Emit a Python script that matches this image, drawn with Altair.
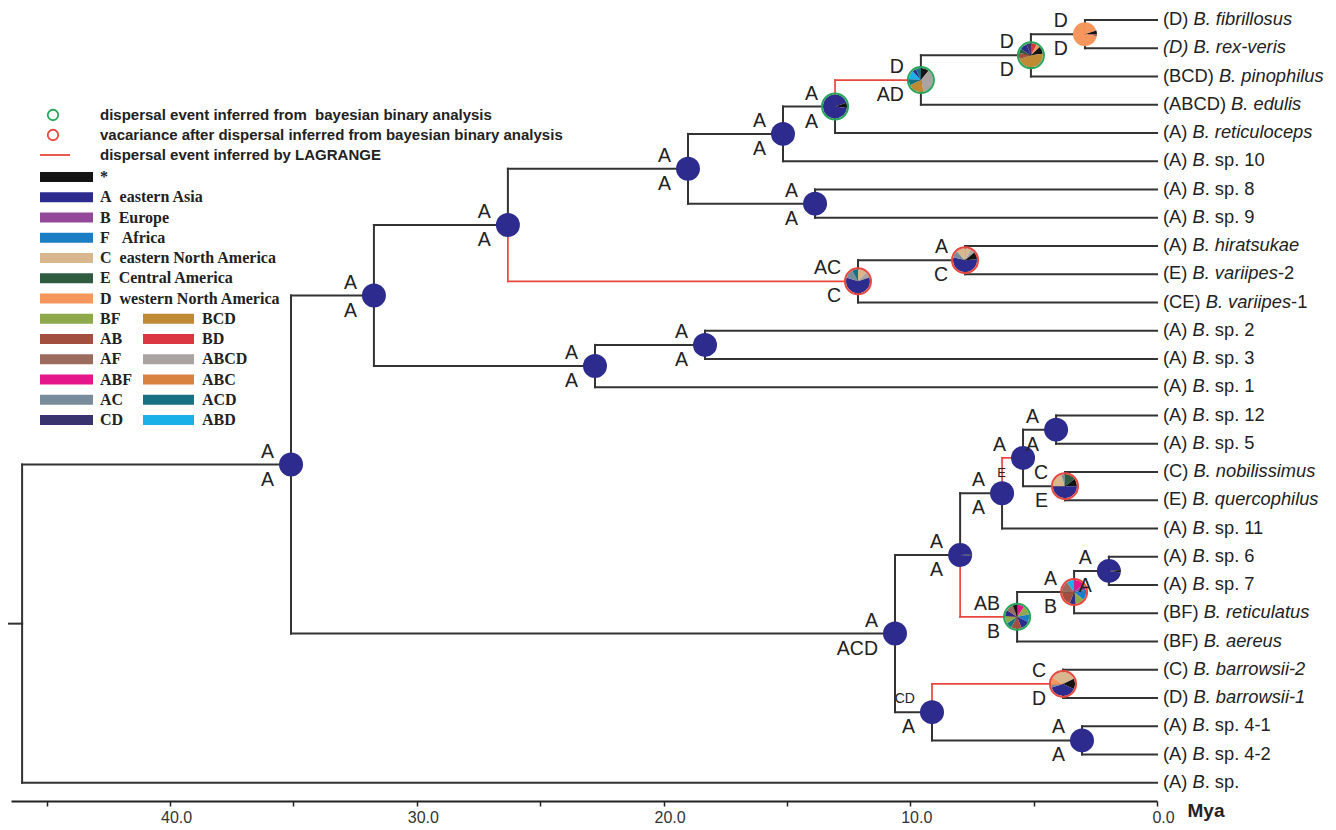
import math
import altair as alt
import pandas as pd

# ------------------------------------------------------------------ data
AREA_CODES = ["*", "A", "B", "F", "C", "E", "D", "BF", "AB", "AF", "ABF", "AC", "CD",
              "BCD", "BD", "ABCD", "ABC", "ACD", "ABD"]
AREA_COLORS = ["#141414", "#2D2C8E", "#93489A", "#1B7DC3", "#D8B78E", "#2F5B40", "#F5965C",
               "#8EA84C", "#A34F40", "#9B6B5E", "#E5158A", "#798C9B", "#3A346E",
               "#BF8A33", "#DB3742", "#A9A3A1", "#D9823F", "#177183", "#1AB0E8"]
AREA_NAMES = ["*", "A\u00a0\u00a0eastern Asia", "B\u00a0\u00a0Europe", "F\u00a0\u00a0\u00a0Africa",
              "C\u00a0\u00a0eastern North America", "E\u00a0\u00a0Central America",
              "D\u00a0\u00a0western North America", "BF", "AB", "AF", "ABF", "AC", "CD",
              "BCD", "BD", "ABCD", "ABC", "ACD", "ABD"]

EVENT_TEXT = ["dispersal event inferred from\u00a0\u00a0bayesian binary analysis",
              "vacariance after dispersal inferred from bayesian binary analysis",
              "dispersal event inferred by LAGRANGE"]

LEAF_PREFIX = ["(D)", "", "(BCD)", "(ABCD)", "(A)", "(A)", "(A)", "(A)", "(A)", "(E)", "(CE)",
               "(A)", "(A)", "(A)", "(A)", "(A)", "(C)", "(E)", "(A)", "(A)", "(A)", "(BF)", "(BF)",
               "(C)", "(D)", "(A)", "(A)", "(A)"]
LEAF_ITALIC = ["B. fibrillosus", "(D) B. rex-veris", "B. pinophilus", "B. edulis", "B. reticuloceps",
               "B", "B", "B", "B. hiratsukae", "B. variipes", "B. variipes", "B", "B", "B", "B", "B",
               "B. nobilissimus", "B. quercophilus", "B", "B", "B", "B. reticulatus", "B. aereus",
               "B. barrowsii-2", "B. barrowsii-1", "B", "B", "B"]
LEAF_SUFFIX = ["", "", "", "", "", ". sp. 10", ". sp. 8", ". sp. 9", "", "-2", "-1", ". sp. 2",
               ". sp. 3", ". sp. 1", ". sp. 12", ". sp. 5", "", "", ". sp. 11", ". sp. 6", ". sp. 7",
               "", "", "", "", ". sp. 4-1", ". sp. 4-2", ". sp."]

NODE_NAMES = ["N9", "N8", "N7", "N6", "N5", "N10", "N4", "N12", "N11", "N3", "N14", "N13", "N2",
              "N20", "N21", "N19", "N18", "N24", "N23", "N22", "N17", "N27", "N28", "N26", "N16",
              "N1", "ROOT"]
NODE_CHILD1 = ["L1", "N9", "N8", "N7", "N6", "L7", "N5", "L9", "N12", "N4", "L12", "N14", "N3",
               "L15", "L17", "N20", "N19", "L20", "N24", "N23", "N18", "L24", "L26", "N27", "N17",
               "N2", "N1"]
NODE_CHILD2 = ["L2", "L3", "L4", "L5", "L6", "L8", "N10", "L10", "L11", "N11", "L13", "L14", "N13",
               "L16", "L18", "N21", "L19", "L21", "L22", "L23", "N22", "L25", "L27", "N28", "N26",
               "N16", "L28"]
NODE_AGE = [2.92, 5.11, 9.57, 13.05, 15.16, 13.86, 19.01, 7.78, 12.12, 26.31, 18.32, 22.78, 31.74,
            4.09, 3.73, 5.43, 6.28, 1.95, 3.36, 5.67, 7.98, 3.81, 3.04, 9.12, 10.62,
            35.10, 46.00]
NODE_TOP = ["D", "D", "D", "A", "A", "A", "A", "A", "AC", "A", "A", "A", "A",
            "A", "C", "A", "A", "A", "A", "AB", "A", "C", "A", "CD", "A", "A", ""]
NODE_BOTTOM = ["D", "D", "AD", "A", "A", "A", "A", "C", "C", "A", "A", "A", "A",
               "A", "E", "E", "A", "A", "B", "B", "A", "D", "A", "A", "ACD", "A", ""]
SMALL_TOP = ["N26"]
SMALL_BOTTOM = ["N19"]
ROOT_STEM_AGE = 46.57

RED_EDGES = [("N3", "N11"), ("N6", "N7"), ("N17", "N22"), ("N18", "N19"), ("N26", "N27")]

PIE_NODES = ["N6", "N7", "N8", "N9", "N11", "N12", "N17", "N21", "N22", "N23", "N24", "N27"]
PIE_AREAS = [["A", "*", "A"],
             ["*", "ABCD", "BCD", "ACD", "ABD", "A", "ACD"],
             ["BD", "D", "*", "BCD", "AB", "E", "A", "CD"],
             ["D", "*", "AB", "D"],
             ["C", "ABCD", "A", "AC", "ACD"],
             ["C", "ABCD", "*", "A", "AC", "C"],
             ["A", "*", "A"],
             ["E", "*", "A", "C", "AC"],
             ["ABF", "BF", "F", "A", "AB", "ACD", "BF", "A", "AF", "*"],
             ["ABF", "B", "F", "BF", "A", "AB", "AF", "ABD"],
             ["A", "*", "A"],
             ["C", "*", "A", "AC", "D", "C"]]
PIE_FRACS = [[0.20, 0.07, 0.73],
             [0.11, 0.35, 0.22, 0.08, 0.12, 0.05, 0.07],
             [0.08, 0.05, 0.10, 0.47, 0.08, 0.06, 0.10, 0.06],
             [0.20, 0.05, 0.03, 0.72],
             [0.12, 0.08, 0.60, 0.12, 0.08],
             [0.08, 0.06, 0.10, 0.55, 0.09, 0.12],
             [0.24, 0.02, 0.74],
             [0.15, 0.10, 0.50, 0.20, 0.05],
             [0.10, 0.12, 0.10, 0.12, 0.14, 0.08, 0.10, 0.08, 0.10, 0.06],
             [0.14, 0.08, 0.14, 0.12, 0.08, 0.18, 0.16, 0.10],
             [0.24, 0.03, 0.73],
             [0.18, 0.14, 0.38, 0.04, 0.10, 0.16]]
GREEN_RING_NODES = ["N6", "N7", "N8", "N22"]
RED_RING_NODES = ["N11", "N12", "N21", "N23", "N27"]

# ------------------------------------------------------------------ layout
PAD_L, PAD_T, PAD_R, PAD_B = 3, 0, 171, 29
PLOT_W, PLOT_H = 1146, 793
X_MAX = 46.45
PXX = PLOT_W / X_MAX
PXY = 28.25
Y_MIN = 1 - 12 / PXY
Y_MAX = Y_MIN + PLOT_H / PXY

SANS = "Liberation Sans"
SERIF = "Liberation Serif"
INK = "#222222"
GREEN = "#27A55A"
RED = "#E8473F"


def sx(px):  # svg x pixel -> time
    return X_MAX - (px - PAD_L) / PXX


def sy(py):  # svg y pixel -> row units
    return Y_MIN + (py - PAD_T) / PXY


ARIAL_W = {c: 556 for c in "0123456789"}
ARIAL_W.update({" ": 278, "(": 333, ")": 333, ".": 278, "-": 333, "A": 667, "B": 667, "C": 722,
                "D": 722, "E": 667, "F": 611, "a": 556, "b": 556, "c": 500, "d": 556, "e": 556,
                "f": 278, "g": 556, "h": 556, "i": 222, "l": 222, "m": 833, "n": 556, "o": 556,
                "p": 556, "q": 556, "r": 333, "s": 500, "t": 278, "u": 556, "v": 500, "w": 722,
                "x": 500, "y": 500})


def tw(s, fs):
    return sum(ARIAL_W.get(c, 556) for c in s) * fs / 1000.0


LEAF_FS = 18.3
NODE_FS = 19.5

# ------------------------------------------------------------------ tree geometry
ypos = {f"L{i + 1}": float(i + 1) for i in range(len(LEAF_PREFIX))}
age = {f"L{i + 1}": 0.0 for i in range(len(LEAF_PREFIX))}
for n, c1, c2, a in zip(NODE_NAMES, NODE_CHILD1, NODE_CHILD2, NODE_AGE):
    ypos[n] = (ypos[c1] + ypos[c2]) / 2
    age[n] = a

segs = []
for n, c1, c2 in zip(NODE_NAMES, NODE_CHILD1, NODE_CHILD2):
    for c in (c1, c2):
        red = (n, c) in RED_EDGES
        segs.append(dict(x=age[n], x2=age[n], y=ypos[n], y2=ypos[c], red=red))
        segs.append(dict(x=age[n], x2=age[c], y=ypos[c], y2=ypos[c], red=red))
segs.append(dict(x=age["ROOT"], x2=ROOT_STEM_AGE, y=ypos["ROOT"], y2=ypos["ROOT"], red=False))
seg_df = pd.DataFrame(segs)

pie_rows = []
for n in NODE_NAMES:
    if n == "ROOT":
        continue
    if n in PIE_NODES:
        k = PIE_NODES.index(n)
        areas, fracs = PIE_AREAS[k], PIE_FRACS[k]
    else:
        areas, fracs = ["A"], [1.0]
    tot = sum(fracs)
    cum = 0.0
    for ar, f in zip(areas, fracs):
        pie_rows.append(dict(node=n, x=age[n], y=ypos[n], area=ar, t0=cum / tot, t1=(cum + f) / tot))
        cum += f
pie_df = pd.DataFrame(pie_rows)

green_ring_df = pd.DataFrame(dict(x=[age[n] for n in GREEN_RING_NODES],
                                  y=[ypos[n] for n in GREEN_RING_NODES]))
red_ring_df = pd.DataFrame(dict(x=[age[n] for n in RED_RING_NODES],
                                y=[ypos[n] for n in RED_RING_NODES]))

lab_rows_top, lab_rows_bot = [], []
for n, t, b in zip(NODE_NAMES, NODE_TOP, NODE_BOTTOM):
    if t:
        lab_rows_top.append(dict(x=age[n], y=ypos[n], label=t, fs=14 if n in SMALL_TOP else NODE_FS))
    if b:
        lab_rows_bot.append(dict(x=age[n], y=ypos[n], label=b, fs=13 if n in SMALL_BOTTOM else NODE_FS))
top_df = pd.DataFrame(lab_rows_top)
bot_df = pd.DataFrame(lab_rows_bot)

leaf_rows_n, leaf_rows_i = [], []
GAP = 6
for i, (p, it, s) in enumerate(zip(LEAF_PREFIX, LEAF_ITALIC, LEAF_SUFFIX)):
    y = float(i + 1)
    off = GAP
    if p:
        leaf_rows_n.append(dict(x=-off / PXX, y=y, label=p))
        off += tw(p + " ", LEAF_FS)
    leaf_rows_i.append(dict(x=-off / PXX, y=y, label=it))
    off += tw(it, LEAF_FS)
    if s:
        leaf_rows_n.append(dict(x=-off / PXX, y=y, label=s))
leaf_n_df = pd.DataFrame(leaf_rows_n)
leaf_i_df = pd.DataFrame(leaf_rows_i)

# legend (svg pixel layout converted to data units)
ev_green = pd.DataFrame(dict(x=[sx(45)], y=[sy(107)]))
ev_red = pd.DataFrame(dict(x=[sx(45)], y=[sy(127)]))
ev_line = pd.DataFrame(dict(x=[sx(32)], x2=[sx(62)], y=[sy(147)]))
ev_text = pd.DataFrame(dict(x=[sx(92)] * 3, y=[sy(107), sy(127), sy(147)], label=EVENT_TEXT))

sw_rows = []
for k, (code, name) in enumerate(zip(AREA_CODES, AREA_NAMES)):
    if k < 13:
        col_x0, col_x1, tx, row = 32, 85, 92, k
    else:
        col_x0, col_x1, tx, row = 135, 186, 194, k - 6
    cy = 169 + 20.25 * row
    sw_rows.append(dict(x=sx(col_x0), x2=sx(col_x1), y=sy(cy - 5), y2=sy(cy + 5),
                        tx=sx(tx), ty=sy(cy), area=code, label=name))
sw_df = pd.DataFrame(sw_rows)

# ------------------------------------------------------------------ encodings
XS = alt.Scale(domain=[0, X_MAX], reverse=True, nice=False, zero=False)
YS = alt.Scale(domain=[Y_MIN, Y_MAX], reverse=True, nice=False, zero=False)
XAX = alt.Axis(values=[45, 40, 35, 30, 25, 20, 15, 10, 5, 0],
               labelExpr="datum.value % 10 == 0 ? format(datum.value, '.1f') : ''",
               grid=False, domainColor="#222222", domainWidth=2, tickColor="#222222",
               tickWidth=1.5, tickSize=5, labelFont=SANS, labelFontSize=16, labelColor="#333333",
               labelPadding=3, labelOffset=6, labelOverlap=False, labelFlush=False,
               title="Mya", titleFont=SANS, titleFontSize=19, titleFontWeight="bold",
               titleColor=INK, titleX=1176, titleY=9, titleAlign="left",
               titleBaseline="middle", titleAngle=0)
COLS = alt.Scale(domain=AREA_CODES, range=AREA_COLORS)


def X(f):
    return alt.X(f, type="quantitative", scale=XS, axis=XAX)


def Y(f):
    return alt.Y(f, type="quantitative", scale=YS, axis=None)


black = alt.Chart(seg_df[~seg_df.red]).mark_rule(color="#333333", strokeWidth=2, strokeCap="square").encode(
    x=X("x"), x2="x2", y=Y("y"), y2="y2")
red = alt.Chart(seg_df[seg_df.red]).mark_rule(color=RED, strokeWidth=1.7, strokeCap="square").encode(
    x=X("x"), x2="x2", y=Y("y"), y2="y2")

pies = alt.Chart(pie_df).mark_arc(radius=12).encode(
    x=X("x"), y=Y("y"),
    theta=alt.Theta("t0:Q", scale=alt.Scale(domain=[0, 1], range=[0, 2 * math.pi], zero=False, nice=False)),
    theta2="t1:Q",
    color=alt.Color("area:N", scale=COLS, legend=None))

green_rings = alt.Chart(green_ring_df).mark_point(shape="circle", filled=False, size=676, strokeWidth=2,
                                                  opacity=1, color=GREEN).encode(x=X("x"), y=Y("y"))
red_rings = alt.Chart(red_ring_df).mark_point(shape="circle", filled=False, size=676, strokeWidth=2,
                                              opacity=1, color=RED).encode(x=X("x"), y=Y("y"))

top_lab = alt.Chart(top_df).mark_text(align="right", baseline="middle", dx=-17, dy=-13,
                                      font=SANS, color=INK).encode(
    x=X("x"), y=Y("y"), text="label:N", size=alt.Size("fs:Q", scale=None, legend=None))
bot_lab = alt.Chart(bot_df).mark_text(align="right", baseline="middle", dx=-17, dy=15,
                                      font=SANS, color=INK).encode(
    x=X("x"), y=Y("y"), text="label:N", size=alt.Size("fs:Q", scale=None, legend=None))

leaf_n = alt.Chart(leaf_n_df).mark_text(align="left", baseline="middle", font=SANS,
                                        fontSize=LEAF_FS, color=INK).encode(
    x=X("x"), y=Y("y"), text="label:N")
leaf_i = alt.Chart(leaf_i_df).mark_text(align="left", baseline="middle", font=SANS, fontStyle="italic",
                                        fontSize=LEAF_FS, color=INK).encode(
    x=X("x"), y=Y("y"), text="label:N")

ev_g = alt.Chart(ev_green).mark_point(shape="circle", filled=False, size=110, strokeWidth=1.8,
                                      opacity=1, color=GREEN).encode(x=X("x"), y=Y("y"))
ev_r = alt.Chart(ev_red).mark_point(shape="circle", filled=False, size=110, strokeWidth=1.8,
                                    opacity=1, color=RED).encode(x=X("x"), y=Y("y"))
ev_lines = alt.Chart(ev_line).mark_rule(color=RED, strokeWidth=1.8).encode(
    x=X("x"), x2="x2", y=Y("y"))
ev_texts = alt.Chart(ev_text).mark_text(align="left", baseline="middle", font=SANS, fontWeight="bold",
                                        fontSize=15, color=INK).encode(
    x=X("x"), y=Y("y"), text="label:N")

swatches = alt.Chart(sw_df).mark_rect().encode(
    x=X("x"), x2="x2", y=Y("y"), y2="y2", color=alt.Color("area:N", scale=COLS, legend=None))
sw_text = alt.Chart(sw_df).mark_text(align="left", baseline="middle", font=SERIF, fontWeight="bold",
                                     fontSize=16, color=INK).encode(
    x=X("tx"), y=Y("ty"), text="label:N")

chart = alt.layer(black, red, pies, green_rings, red_rings, top_lab, bot_lab, leaf_n, leaf_i,
                  ev_g, ev_r, ev_lines, ev_texts, swatches, sw_text).properties(
    width=PLOT_W, height=PLOT_H,
    autosize=alt.AutoSizeParams(type="none"),
    padding={"left": PAD_L, "top": PAD_T, "right": PAD_R, "bottom": PAD_B},
    background="white",
).configure_view(strokeWidth=0)

chart.save("out.html", embed_options={"renderer": "svg", "actions": False})
